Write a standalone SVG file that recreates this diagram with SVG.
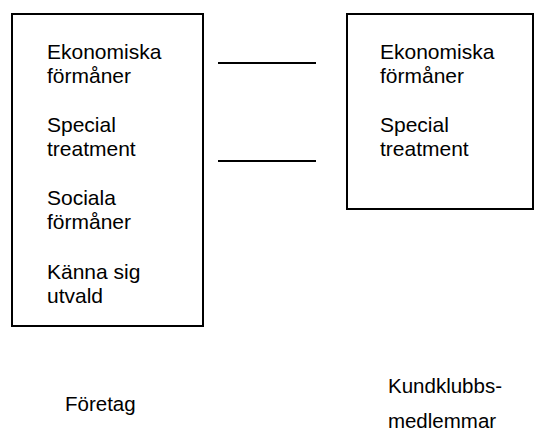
<svg xmlns="http://www.w3.org/2000/svg" width="534" height="432" viewBox="0 0 534 432">
<style>
.box{fill:#fff;stroke:#000;stroke-width:2}
.t{font-family:"Liberation Sans",Arial,sans-serif;font-size:21px;fill:#000}
.b{font-family:"Liberation Sans",Arial,sans-serif;font-size:20.5px;fill:#000}
.c{stroke:#000;stroke-width:2;fill:none}
</style>
<rect width="534" height="432" fill="#fff"/>
<g id="foretag-box">
<rect class="box" x="12" y="14" width="191" height="312"/>
<text class="t" x="47" y="59">Ekonomiska</text>
<text class="t" x="47" y="83">förmåner</text>
<text class="t" x="47" y="132">Special</text>
<text class="t" x="47" y="156">treatment</text>
<text class="t" x="47" y="205">Sociala</text>
<text class="t" x="47" y="229">förmåner</text>
<text class="t" x="47" y="279">Känna sig</text>
<text class="t" x="47" y="303">utvald</text>
</g>
<g id="medlem-box">
<rect class="box" x="347" y="14" width="186" height="195"/>
<text class="t" x="380" y="59">Ekonomiska</text>
<text class="t" x="380" y="83">förmåner</text>
<text class="t" x="380" y="132">Special</text>
<text class="t" x="380" y="156">treatment</text>
</g>
<g id="connectors">
<line class="c" x1="218" y1="63" x2="316" y2="63"/>
<line class="c" x1="218" y1="161" x2="316" y2="161"/>
</g>
<g id="foretag-label">
<text class="b" x="65" y="411">Företag</text>
</g>
<g id="medlem-label">
<text class="b" x="445" y="393" text-anchor="middle">Kundklubbs-</text>
<text class="b" x="442" y="428" text-anchor="middle">medlemmar</text>
</g>
</svg>
